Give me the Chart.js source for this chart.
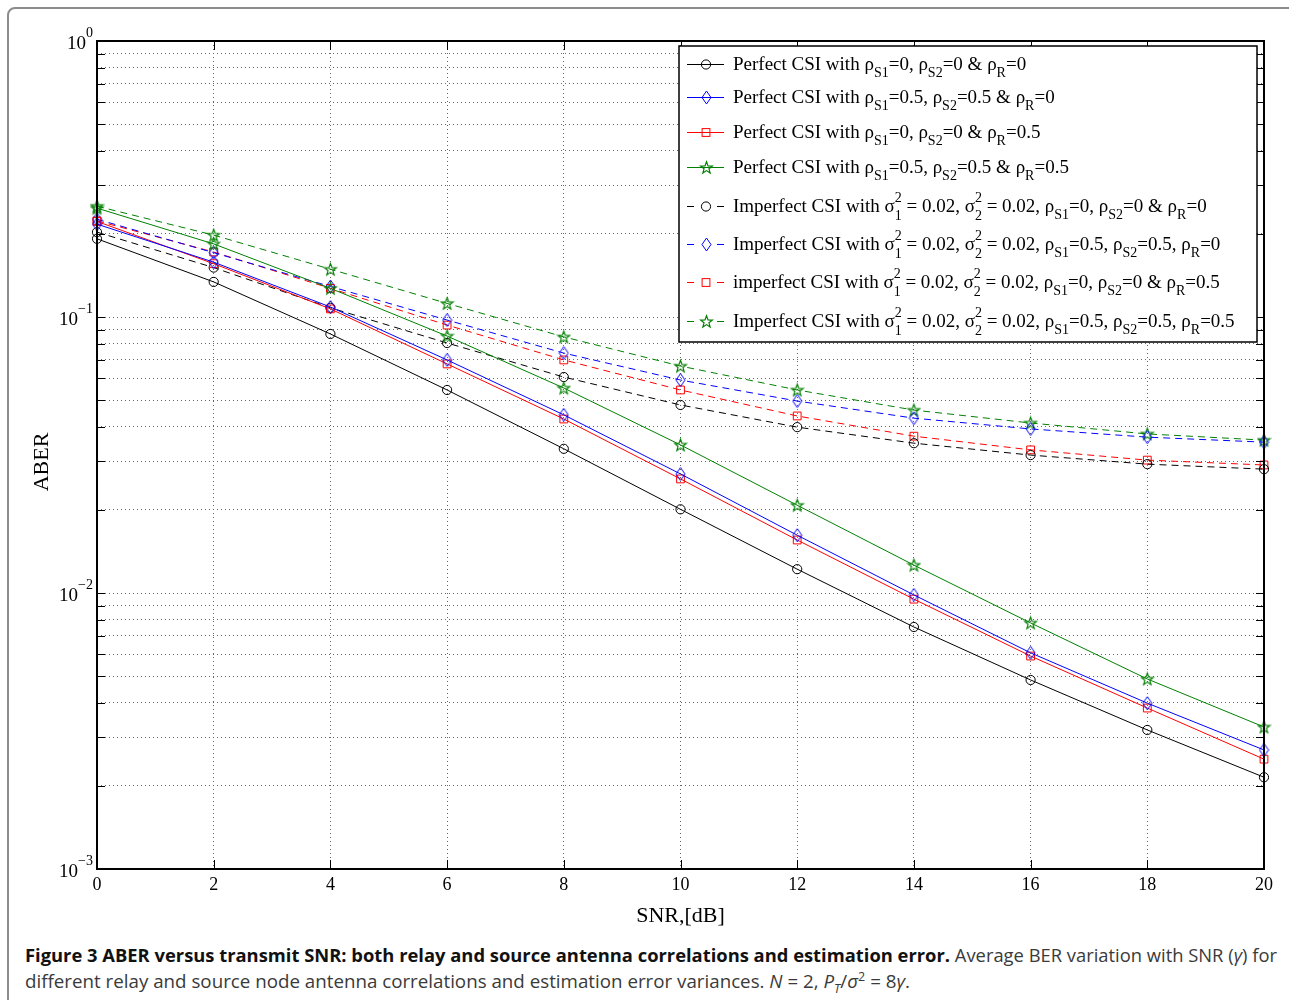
<!DOCTYPE html>
<html>
<head>
<meta charset="utf-8">
<script src="https://cdn.jsdelivr.net/npm/chart.js@4.4.0/dist/chart.umd.min.js"></script>
<style>
  body { margin: 0; background: #fff; width: 1289px; height: 1000px; overflow: hidden; position: relative; font-family: "Open Sans", sans-serif; }
  #frame { position: absolute; left: 7px; top: 7px; width: 1320px; height: 1020px; border: 2px solid #8c8c8c; border-radius: 8px; }
  #wrap { position: absolute; left: 0; top: 0; width: 1289px; height: 930px; }
  .cap { position: absolute; left: 25px; white-space: nowrap; font-size: 18px; line-height: 22px; color: #3a3a3a; transform-origin: 0 50%; display: inline-block; }
  .cap b { color: #111; }
  .cap sub, .cap sup { font-size: 12px; line-height: 0; }
</style>
</head>
<body>
<div id="frame"></div>
<div id="wrap"><canvas id="aberChart" width="1289" height="930"></canvas></div>
<span class="cap" id="cap1" style="top:944px"><b>Figure 3 ABER versus transmit SNR: both relay and source antenna correlations and estimation error.</b> Average BER variation with SNR (<i>γ</i>) for</span>
<span class="cap" id="cap2" style="top:970px">different relay and source node antenna correlations and estimation error variances. <i>N</i> = 2, <i>P</i><sub><i>T</i></sub>/<i>σ</i><sup>2</sup> = 8<i>γ</i>.</span>

<script>
// SNR points (dB)
var snr = [0, 2, 4, 6, 8, 10, 12, 14, 16, 18, 20];

// Perfect CSI
var perfNoCorr    = [0.192, 0.134, 0.0868, 0.0544, 0.0333, 0.0201, 0.0122, 0.00753, 0.00484, 0.00319, 0.00215];
var perfSrcCorr   = [0.217, 0.158, 0.1087, 0.0699, 0.0442, 0.0270, 0.0162, 0.00984, 0.00607, 0.00399, 0.00270];
var perfRelayCorr = [0.222, 0.156, 0.107, 0.0676, 0.0427, 0.0259, 0.01556, 0.0095, 0.00591, 0.00383, 0.00250];
var perfBothCorr  = [0.248, 0.184, 0.127, 0.0853, 0.0553, 0.0344, 0.0208, 0.01262, 0.00779, 0.00488, 0.00327];

// Imperfect CSI (sigma^2 = 0.02)
var impNoCorr    = [0.203, 0.151, 0.108, 0.0805, 0.0606, 0.048, 0.0399, 0.0349, 0.0316, 0.0293, 0.0281];
var impSrcCorr   = [0.226, 0.171, 0.129, 0.0975, 0.074, 0.0591, 0.0496, 0.043, 0.0393, 0.0367, 0.0352];
var impRelayCorr = [0.223, 0.172, 0.127, 0.0935, 0.0699, 0.0544, 0.0438, 0.037, 0.033, 0.0303, 0.0291];
var impBothCorr  = [0.252, 0.198, 0.149, 0.112, 0.0847, 0.0664, 0.0544, 0.046, 0.0413, 0.0377, 0.0358];

// Legend texts (_{} subscript, ^{} superscript)
var seriesLabels = [
  "Perfect CSI with ρ_{S1}=0, ρ_{S2}=0 & ρ_{R}=0",
  "Perfect CSI with ρ_{S1}=0.5, ρ_{S2}=0.5 & ρ_{R}=0",
  "Perfect CSI with ρ_{S1}=0, ρ_{S2}=0 & ρ_{R}=0.5",
  "Perfect CSI with ρ_{S1}=0.5, ρ_{S2}=0.5 & ρ_{R}=0.5",
  "Imperfect CSI with σ^{2}_{1} = 0.02, σ^{2}_{2} = 0.02, ρ_{S1}=0, ρ_{S2}=0 & ρ_{R}=0",
  "Imperfect CSI with σ^{2}_{1} = 0.02, σ^{2}_{2} = 0.02, ρ_{S1}=0.5, ρ_{S2}=0.5, ρ_{R}=0",
  "imperfect CSI with σ^{2}_{1} = 0.02, σ^{2}_{2} = 0.02, ρ_{S1}=0, ρ_{S2}=0 & ρ_{R}=0.5",
  "Imperfect CSI with σ^{2}_{1} = 0.02, σ^{2}_{2} = 0.02, ρ_{S1}=0.5, ρ_{S2}=0.5, ρ_{R}=0.5"
];

// Axis ticks
var xTicks = [0, 2, 4, 6, 8, 10, 12, 14, 16, 18, 20];
var yDecades = [-3, -2, -1, 0];
var yTickLabels = ["−3", "−2", "−1", "0"];
var xTitle = "SNR,[dB]";
var yTitle = "ABER";

var SERIF = '"Liberation Serif", "Times New Roman", serif';

// minor grid values for the log axis: 1..9 x 10^d
var yGrid = [];
for (var d = -3; d < 0; d++) {
  for (var m = 1; m < 10; m++) yGrid.push(m * Math.pow(10, d));
}
yGrid.push(1);

function makeStar(color) {
  var c = document.createElement("canvas");
  c.width = 15; c.height = 15;
  var g = c.getContext("2d");
  g.strokeStyle = color; g.lineWidth = 1.2;
  g.beginPath();
  for (var k = 0; k < 10; k++) {
    var r = k % 2 ? 2.6 : 6.2;
    var a = -Math.PI / 2 + k * Math.PI / 5;
    g.lineTo(7.5 + r * Math.cos(a), 8 + r * Math.sin(a));
  }
  g.closePath(); g.stroke();
  return c;
}

function makeDiamond(color) {
  var c = document.createElement("canvas");
  c.width = 11; c.height = 15;
  var g = c.getContext("2d");
  g.strokeStyle = color; g.lineWidth = 1;
  g.beginPath();
  g.moveTo(5.5, 1); g.lineTo(10, 7.5); g.lineTo(5.5, 14); g.lineTo(1, 7.5);
  g.closePath(); g.stroke();
  return c;
}

function pts(vals) {
  return snr.map(function(x, i) { return { x: x, y: vals[i] }; });
}

var styles = [
  { color: "#000000", marker: "circle" },
  { color: "#0000ff", marker: makeDiamond("#0000ff") },
  { color: "#ff0000", marker: "rect" },
  { color: "#008000", marker: makeStar("#008000") }
];
var allSeries = [perfNoCorr, perfSrcCorr, perfRelayCorr, perfBothCorr, impNoCorr, impSrcCorr, impRelayCorr, impBothCorr];

var datasets = allSeries.map(function(vals, i) {
  var st = styles[i % 4];
  return {
    label: seriesLabels[i],
    data: pts(vals),
    borderColor: st.color,
    borderWidth: 1,
    borderDash: i >= 4 ? [7, 5] : [],
    pointStyle: st.marker,
    pointRadius: st.marker === "rect" ? 5.5 : 4.6,
    pointBorderColor: st.color,
    pointBackgroundColor: "rgba(0,0,0,0)",
    pointBorderWidth: 1,
    tension: 0,
    clip: false
  };
});

// draw text with _{sub} and ^{sup} parts, returns width
function drawRich(ctx, str, x, y, size) {
  var small = Math.round(size * 0.74);
  var big = size + "px " + SERIF, sm = small + "px " + SERIF;
  var cx = x, i = 0;
  function grab(pos) {
    var end = str.indexOf("}", pos);
    return { txt: str.slice(pos + 2, end), next: end + 1 };
  }
  while (i < str.length) {
    if (str[i] === "^" && str[i + 1] === "{") {
      var sp = grab(i); i = sp.next;
      ctx.font = sm;
      var w = ctx.measureText(sp.txt).width;
      ctx.fillText(sp.txt, cx, y - 10);
      if (str[i] === "_" && str[i + 1] === "{") {
        var sb = grab(i); i = sb.next;
        ctx.fillText(sb.txt, cx, y + 8);
        w = Math.max(w, ctx.measureText(sb.txt).width);
      }
      cx += w;
    } else if (str[i] === "_" && str[i + 1] === "{") {
      var s2 = grab(i); i = s2.next;
      ctx.font = sm;
      ctx.fillText(s2.txt, cx, y + 7);
      cx += ctx.measureText(s2.txt).width;
    } else {
      var j = i;
      while (j < str.length && !((str[j] === "^" || str[j] === "_") && str[j + 1] === "{")) j++;
      var plain = str.slice(i, j);
      ctx.font = big;
      ctx.fillText(plain, cx, y);
      cx += ctx.measureText(plain).width;
      i = j;
    }
  }
  return cx - x;
}

function drawMarker(ctx, marker, color, x, y) {
  ctx.save();
  ctx.strokeStyle = color; ctx.lineWidth = 1; ctx.setLineDash([]);
  if (marker === "circle") {
    ctx.beginPath(); ctx.arc(x, y, 4.6, 0, Math.PI * 2); ctx.stroke();
  } else if (marker === "rect") {
    ctx.strokeRect(x - 3.9, y - 3.9, 7.8, 7.8);
  } else {
    ctx.drawImage(marker, Math.round(x - marker.width / 2), Math.round(y - marker.height / 2));
  }
  ctx.restore();
}

var decorPlugin = {
  id: "decor",
  afterDraw: function(chart) {
    var ctx = chart.ctx, a = chart.chartArea;
    var xs = chart.scales.x, ys = chart.scales.y;
    ctx.save();
    ctx.setLineDash([]);
    ctx.strokeStyle = "#000";

    // inward tick marks
    ctx.lineWidth = 1;
    ctx.beginPath();
    xTicks.forEach(function(t) {
      var px = Math.round(xs.getPixelForValue(t)) + 0.5;
      ctx.moveTo(px, a.bottom); ctx.lineTo(px, a.bottom - 9);
      ctx.moveTo(px, a.top); ctx.lineTo(px, a.top + 9);
    });
    yGrid.forEach(function(v) {
      var py = Math.round(ys.getPixelForValue(v)) + 0.5;
      ctx.moveTo(a.left, py); ctx.lineTo(a.left + 8, py);
      ctx.moveTo(a.right, py); ctx.lineTo(a.right - 8, py);
    });
    ctx.stroke();

    // frame
    ctx.lineWidth = 2;
    ctx.strokeRect(a.left, a.top, a.right - a.left, a.bottom - a.top);

    // x tick labels
    ctx.fillStyle = "#000";
    ctx.font = "18px " + SERIF;
    ctx.textAlign = "center";
    ctx.textBaseline = "alphabetic";
    xTicks.forEach(function(t) {
      ctx.fillText(String(t), xs.getPixelForValue(t), a.bottom + 21);
    });

    // y tick labels: 10^n
    yDecades.forEach(function(e, i) {
      var py = ys.getPixelForValue(Math.pow(10, e));
      ctx.font = "14px " + SERIF;
      var supW = ctx.measureText(yTickLabels[i]).width;
      ctx.textAlign = "right";
      ctx.fillText(yTickLabels[i], 93, py - 4);
      ctx.font = "19px " + SERIF;
      ctx.fillText("10", 93 - supW, py + 8);
    });

    // axis titles
    ctx.textAlign = "center";
    ctx.font = "22px " + SERIF;
    ctx.fillText(xTitle, (a.left + a.right) / 2, 922);
    ctx.save();
    ctx.translate(48, 462);
    ctx.rotate(-Math.PI / 2);
    ctx.fillText(yTitle, 0, 0);
    ctx.restore();

    // legend box
    var lx = 679, ly = 46, lw = 578, lh = 296;
    ctx.fillStyle = "#fff";
    ctx.fillRect(lx, ly, lw, lh);
    ctx.lineWidth = 1.5;
    ctx.strokeStyle = "#000";
    ctx.strokeRect(lx, ly, lw, lh);
    var baselines = [70, 103, 138, 173, 212, 250, 288, 327];
    ctx.textAlign = "left";
    chart.data.datasets.forEach(function(ds, i) {
      var by = baselines[i];
      var sy = by - 6 + 0.5;
      ctx.strokeStyle = ds.borderColor;
      ctx.lineWidth = 1;
      ctx.beginPath();
      if (ds.borderDash.length) {
        ctx.moveTo(687, sy); ctx.lineTo(694, sy);
        ctx.moveTo(717, sy); ctx.lineTo(724, sy);
      } else {
        ctx.moveTo(687, sy); ctx.lineTo(724, sy);
      }
      ctx.stroke();
      drawMarker(ctx, ds.pointStyle, ds.borderColor, 706, sy);
      ctx.fillStyle = "#000";
      drawRich(ctx, ds.label, 733, by, 19);
    });
    ctx.restore();
  }
};

var ctx = document.getElementById("aberChart").getContext("2d");
var aberChart = new Chart(ctx, {
  type: "line",
  data: { datasets: datasets },
  options: {
    responsive: false,
    animation: false,
    layout: { padding: { left: 97, right: 25, top: 41, bottom: 61 } },
    plugins: { legend: { display: false }, tooltip: { enabled: false } },
    scales: {
      x: {
        type: "linear", min: 0, max: 20,
        ticks: { display: false, stepSize: 2 },
        grid: { color: "#666", lineWidth: 1, drawTicks: false },
        border: { display: false, dash: [1, 3] }
      },
      y: {
        type: "logarithmic", min: 0.001, max: 1,
        ticks: { display: false },
        afterBuildTicks: function(scale) {
          scale.ticks = yGrid.map(function(v) { return { value: v }; });
        },
        grid: { color: "#666", lineWidth: 1, drawTicks: false },
        border: { display: false, dash: [1, 3] }
      }
    }
  },
  plugins: [decorPlugin]
});

// squeeze caption lines to the reference widths (condensed face)
function fitCaption(id, target) {
  var el = document.getElementById(id);
  var w = el.getBoundingClientRect().width;
  el.style.transform = "scaleX(" + (target / w) + ")";
}
fitCaption("cap1", 1252);
fitCaption("cap2", 885);
</script>
</body>
</html>
